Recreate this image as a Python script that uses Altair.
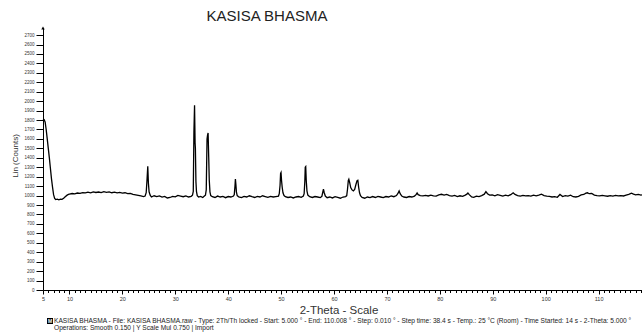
import altair as alt
import pandas as pd

# ---- data (2-theta in degrees, counts) ----
start_region = [
    (5.0, 1810), (5.2, 1805), (5.4, 1780), (5.6, 1700), (5.8, 1600), (6.0, 1500),
    (6.2, 1400), (6.4, 1290), (6.6, 1180), (6.8, 1090), (7.0, 1010), (7.2, 970),
    (7.4, 958), (7.7, 962), (8.0, 955), (8.3, 963), (8.6, 960), (8.9, 972),
    (9.2, 988), (9.5, 1002), (9.8, 1012),
]
hump_region = [
    (10.0, 1015), (10.5, 1022), (11.0, 1018), (11.5, 1027), (12.0, 1023), (12.5, 1031),
    (13.0, 1028), (13.5, 1036), (14.0, 1029), (14.5, 1040), (15.0, 1033), (15.5, 1038),
    (16.0, 1031), (16.5, 1042), (17.0, 1035), (17.5, 1039), (18.0, 1030), (18.5, 1037),
    (19.0, 1029), (19.5, 1033), (20.0, 1026), (20.5, 1030), (21.0, 1020), (21.5, 1024),
    (22.0, 1012), (22.5, 1008), (23.0, 1002), (23.5, 996), (24.0, 990),
]
peak_points = [
    # 24.8
    (24.3, 995), (24.5, 1030), (24.65, 1160), (24.8, 1311), (24.92, 1130), (25.05, 1040), (25.25, 1005),
    # 33.6
    (33.25, 1005), (33.4, 1045), (33.52, 1670), (33.64, 1957), (33.74, 1560), (33.8, 1500),
    (33.9, 1150), (34.0, 1045), (34.15, 1000),
    # 36.2
    (35.7, 1005), (35.85, 1060), (36.0, 1600), (36.1, 1640), (36.2, 1664), (36.32, 1400),
    (36.42, 1165), (36.55, 1040), (36.7, 1000),
    # 41.4
    (41.15, 1010), (41.28, 1100), (41.36, 1176), (41.45, 1120), (41.55, 1040), (41.7, 1000),
    # 50.0
    (49.65, 1020), (49.8, 1110), (49.9, 1235), (49.98, 1244), (50.08, 1160), (50.2, 1090),
    (50.35, 1030), (50.55, 1000),
    # 54.6
    (54.35, 1020), (54.48, 1150), (54.56, 1300), (54.65, 1307), (54.75, 1160), (54.88, 1050), (55.05, 1005),
    # 58.0
    (57.85, 1030), (58.0, 1067), (58.15, 1030), (58.35, 995),
    # 62.8 / 64.5 pair
    (62.4, 1000), (62.55, 1070), (62.7, 1160), (62.8, 1173), (62.95, 1140), (63.15, 1085),
    (63.4, 1060), (63.65, 1050), (63.9, 1065), (64.15, 1120), (64.35, 1158), (64.5, 1162),
    (64.65, 1090), (64.82, 1030), (65.0, 998),
]
baseline_points = [
    (25.5, 985), (26.0, 998), (26.5, 990), (27.0, 996), (27.5, 984), (28.0, 992), (28.5, 975),
    (29.0, 980), (29.5, 992), (30.0, 986), (30.5, 1002), (31.0, 995), (31.5, 988), (32.0, 996),
    (32.5, 985), (33.0, 992), (34.4, 985), (34.8, 992), (35.2, 980), (35.5, 995),
    (37.0, 988), (37.5, 980), (38.0, 995), (38.5, 985), (39.0, 992), (39.5, 978), (40.0, 990),
    (40.5, 985), (41.0, 995), (42.0, 985), (42.5, 978), (43.0, 992), (43.5, 985), (44.0, 998),
    (44.5, 988), (45.0, 980), (45.5, 992), (46.0, 985), (46.5, 998), (47.0, 990), (47.5, 982),
    (48.0, 992), (48.5, 985), (49.0, 990), (49.5, 995), (50.8, 988), (51.3, 980), (51.8, 985),
    (52.3, 975), (52.8, 985), (53.3, 990), (53.8, 982), (54.2, 995), (55.4, 988), (55.9, 980),
    (56.4, 990), (56.9, 985), (57.4, 978), (57.7, 992), (58.7, 978), (59.2, 985), (59.7, 975),
    (60.2, 988), (60.7, 980), (61.2, 972), (61.7, 985), (62.2, 990),
    (65.3, 980), (65.8, 972), (66.3, 985), (66.8, 978), (67.3, 990), (67.8, 980), (68.3, 992),
    (68.8, 985), (69.3, 978), (69.8, 990), (70.3, 985), (70.8, 996), (71.3, 988), (71.8, 1000),
    (72.1, 1025), (72.3, 1049), (72.5, 1020), (72.8, 995), (73.2, 985), (73.7, 980), (74.2, 990),
    (74.7, 985), (75.2, 995), (75.5, 1010), (75.7, 1027), (75.9, 1010), (76.3, 1000), (76.8, 998),
    (77.3, 1003), (77.8, 996), (78.3, 1005), (78.8, 998), (79.3, 995), (79.8, 1008), (80.3, 1014),
    (80.8, 1005), (81.3, 1012), (81.8, 1000), (82.3, 995), (82.8, 1002), (83.3, 990), (83.8, 998),
    (84.3, 992), (84.8, 1005), (85.1, 1015), (85.3, 1027), (85.6, 1008), (86.0, 985), (86.4, 982),
    (86.9, 995), (87.4, 990), (87.9, 1000), (88.4, 1015), (88.7, 1042), (89.0, 1020), (89.4, 1005),
    (89.9, 1008), (90.4, 998), (90.9, 1010), (91.4, 1003), (91.9, 995), (92.4, 1005), (92.9, 998),
    (93.4, 1010), (93.85, 1030), (94.2, 1012), (94.7, 1000), (95.2, 995), (95.7, 1003), (96.2, 997),
    (96.7, 1000), (97.2, 995), (97.7, 1005), (98.2, 998), (98.7, 1004), (99.2, 1015), (99.7, 1000),
    (100.2, 995), (100.7, 992), (101.2, 985), (101.7, 988), (102.2, 982), (102.7, 1012), (103.2, 990),
    (103.7, 1000), (104.2, 995), (104.7, 1005), (105.2, 988), (105.7, 985), (106.2, 992), (106.7, 1008),
    (107.2, 1012), (107.6, 1025), (107.9, 1030), (108.2, 1020), (108.7, 1022), (109.2, 1005),
    (109.7, 1000), (110.2, 996), (110.7, 1002), (111.2, 998), (111.7, 993), (112.2, 1000),
    (112.7, 995), (113.2, 1003), (113.7, 997), (114.2, 1000), (114.7, 996), (115.2, 1005),
    (115.7, 1012), (116.2, 1025), (116.6, 1015), (117.0, 1008), (117.5, 1012), (118.0, 1005),
    (118.2, 1008),
]

title_text = "KASISA BHASMA"
x_title = "2-Theta - Scale"
y_title = "Lin (Counts)"
footer_line1 = ("KASISA BHASMA - File: KASISA BHASMA.raw - Type: 2Th/Th locked - Start: 5.000 \u00b0 - "
                "End: 110.008 \u00b0 - Step: 0.010 \u00b0 - Step time: 38.4 s - Temp.: 25 \u00b0C (Room) - "
                "Time Started: 14 s - 2-Theta: 5.000 \u00b0")
footer_line2 = "Operations: Smooth 0.150 | Y Scale Mul 0.750 | Import"

x_ticks = list(range(5, 119))
y_ticks = list(range(0, 2800, 100))
axis_top = [(5.0, 2775)]

pts = sorted(start_region + hump_region + peak_points + baseline_points)
df = pd.DataFrame(pts, columns=["two_theta", "counts"])
df_top = pd.DataFrame(axis_top, columns=["two_theta", "counts"])

W, H = 599, 262
FONT = "Liberation Sans"

xscale = alt.Scale(domain=[5, 118.2], nice=False, zero=False)
yscale = alt.Scale(domain=[0, 2775], nice=False)

x_enc = alt.X("two_theta:Q", scale=xscale, title=None,
              axis=alt.Axis(values=x_ticks, grid=False, domainColor="black", tickColor="black",
                            tickSize={"condition": {"test": "datum.value % 10 === 0 || datum.value === 5", "value": 4}, "value": 2.5},
                            labelExpr="(datum.value % 10 === 0 || datum.value === 5) ? datum.label : ''",
                            labelFontSize=5.5, labelFont=FONT, labelColor="#333", labelPadding=2,
                            labelOverlap=False, labelFlush=False))
y_enc = alt.Y("counts:Q", scale=yscale, title=None,
              axis=alt.Axis(values=y_ticks, grid=False, domainColor="black", tickColor="black",
                            tickSize=7, labelFontSize=4.5, labelFont=FONT, labelColor="#333", format="d",
                            labelPadding=2, labelOverlap=False, labelFlush=False))

line = alt.Chart(df).mark_line(color="black", strokeWidth=1.3).encode(x=x_enc, y=y_enc)

arrow = alt.Chart(df_top).mark_point(
    shape="triangle-up", filled=True, color="black", size=12, opacity=1
).encode(x=x_enc, y=y_enc)

title = alt.Chart(pd.DataFrame({"t": [title_text]})).mark_text(
    font=FONT, fontSize=15, color="#222", align="center", baseline="alphabetic"
).encode(x=alt.value(224), y=alt.value(-7), text="t:N")

xt = alt.Chart(pd.DataFrame({"t": [x_title]})).mark_text(
    font=FONT, fontSize=11.5, color="#333", align="center", baseline="alphabetic"
).encode(x=alt.value(296), y=alt.value(286), text="t:N")

yt = alt.Chart(pd.DataFrame({"t": [y_title]})).mark_text(
    font=FONT, fontSize=8, color="#333", align="center", baseline="middle", angle=270
).encode(x=alt.value(-27), y=alt.value(128), text="t:N")

box = alt.Chart(pd.DataFrame({"a": [0]})).mark_rect(color="black").encode(
    x=alt.value(4), x2=alt.value(10), y=alt.value(290), y2=alt.value(296))
box_t = alt.Chart(pd.DataFrame({"t": ["M"]})).mark_text(
    font=FONT, fontSize=5, color="white", fontWeight="bold", align="center", baseline="middle"
).encode(x=alt.value(7), y=alt.value(293.2), text="t:N")

f1 = alt.Chart(pd.DataFrame({"t": [footer_line1]})).mark_text(
    font=FONT, fontSize=6.6, color="#222", align="left", baseline="middle"
).encode(x=alt.value(11), y=alt.value(293), text="t:N")
f2 = alt.Chart(pd.DataFrame({"t": [footer_line2]})).mark_text(
    font=FONT, fontSize=6.6, color="#222", align="left", baseline="middle"
).encode(x=alt.value(11), y=alt.value(299.5), text="t:N")

chart = alt.layer(line, arrow, title, xt, yt, box, box_t, f1, f2).properties(
    width=W, height=H, autosize="none",
    padding={"left": 43, "top": 28, "right": 0, "bottom": 44},
    background="white",
).configure_view(stroke=None)

chart.save("out.html", embed_options={"renderer": "svg", "actions": False})
